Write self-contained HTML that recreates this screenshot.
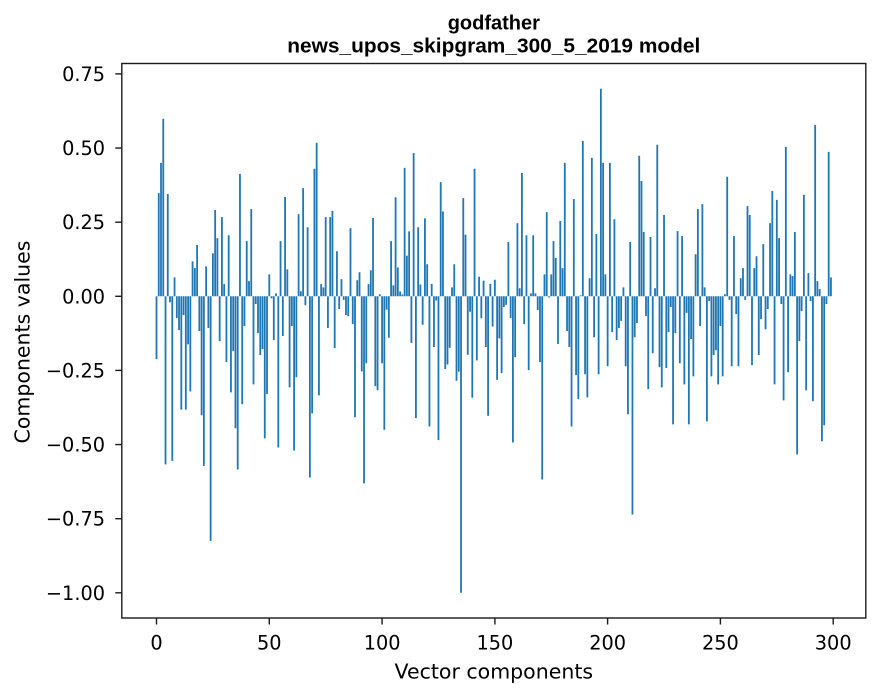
<!DOCTYPE html>
<html>
<head>
<meta charset="utf-8">
<style>
html,body{margin:0;padding:0;background:#fff;}
svg{display:block;}
</style>
</head>
<body>
<svg width="880" height="696" viewBox="0 0 880 696" xmlns="http://www.w3.org/2000/svg">
<rect x="0" y="0" width="880" height="696" fill="#fff"/>
<g transform="translate(156.5 296.3) scale(2.2557 -296.5)" fill="#1f77b4">
<path d="M-.4 0
h.8V-.212h-.8zm1 0 h.8V.348h-.8zm1 0 h.8V.450h-.8zm1 0 h.8V.599h-.8zm1 0 h.8V-.567h-.8zm1 0
h.8V.345h-.8zm1 0 h.8V-.020h-.8zm1 0 h.8V-.555h-.8zm1 0 h.8V.064h-.8zm1 0 h.8V-.073h-.8zm1 0
h.8V-.114h-.8zm1 0 h.8V-.382h-.8zm1 0 h.8V-.063h-.8zm1 0 h.8V-.382h-.8zm1 0 h.8V-.162h-.8zm1 0
h.8V-.321h-.8zm1 0 h.8V.118h-.8zm1 0 h.8V.095h-.8zm1 0 h.8V.173h-.8zm1 0 h.8V-.117h-.8zm1 0
h.8V-.401h-.8zm1 0 h.8V-.572h-.8zm1 0 h.8V.101h-.8zm1 0 h.8V-.107h-.8zm1 0 h.8V-.825h-.8zm1 0
h.8V.145h-.8zm1 0 h.8V.291h-.8zm1 0 h.8V.196h-.8zm1 0 h.8V-.151h-.8zm1 0 h.8V.267h-.8zm1 0
h.8V.041h-.8zm1 0 h.8V-.222h-.8zm1 0 h.8V.206h-.8zm1 0 h.8V-.324h-.8zm1 0 h.8V-.185h-.8zm1 0
h.8V-.445h-.8zm1 0 h.8V-.584h-.8zm1 0 h.8V.413h-.8zm1 0 h.8V-.364h-.8zm1 0 h.8V-.100h-.8zm1 0
h.8V.186h-.8zm1 0 h.8V.051h-.8zm1 0 h.8V.294h-.8zm1 0 h.8V-.297h-.8zm1 0 h.8V-.026h-.8zm1 0
h.8V-.124h-.8zm1 0 h.8V-.198h-.8zm1 0 h.8V-.178h-.8zm1 0 h.8V-.479h-.8zm1 0 h.8V-.330h-.8zm1 0
h.8V.074h-.8zm1 0 h.8V-.007h-.8zm1 0 h.8V-.148h-.8zm1 0 h.8V.010h-.8zm1 0 h.8V-.510h-.8zm1 0
h.8V.186h-.8zm1 0 h.8V-.134h-.8zm1 0 h.8V.335h-.8zm1 0 h.8V.091h-.8zm1 0 h.8V-.307h-.8zm1 0
h.8V-.100h-.8zm1 0 h.8V-.520h-.8zm1 0 h.8V-.273h-.8zm1 0 h.8V.277h-.8zm1 0 h.8V.017h-.8zm1 0
h.8V.365h-.8zm1 0 h.8V-.030h-.8zm1 0 h.8V.233h-.8zm1 0 h.8V-.611h-.8zm1 0 h.8V-.395h-.8zm1 0
h.8V.430h-.8zm1 0 h.8V.518h-.8zm1 0 h.8V-.334h-.8zm1 0 h.8V.041h-.8zm1 0 h.8V.030h-.8zm1 0
h.8V.267h-.8zm1 0 h.8V-.107h-.8zm1 0 h.8V.267h-.8zm1 0 h.8V.288h-.8zm1 0 h.8V-.175h-.8zm1 0
h.8V.152h-.8zm1 0 h.8V-.043h-.8zm1 0 h.8V.058h-.8zm1 0 h.8V-.012h-.8zm1 0 h.8V-.063h-.8zm1 0
h.8V-.067h-.8zm1 0 h.8V.230h-.8zm1 0 h.8V-.094h-.8zm1 0 h.8V-.408h-.8zm1 0 h.8V.054h-.8zm1 0
h.8V.081h-.8zm1 0 h.8V-.253h-.8zm1 0 h.8V-.631h-.8zm1 0 h.8V-.226h-.8zm1 0 h.8V.041h-.8zm1 0
h.8V.088h-.8zm1 0 h.8V.264h-.8zm1 0 h.8V-.303h-.8zm1 0 h.8V-.317h-.8zm1 0 h.8V.007h-.8zm1 0
h.8V-.226h-.8zm1 0 h.8V-.450h-.8zm1 0 h.8V-.045h-.8zm1 0 h.8V-.140h-.8zm1 0 h.8V.186h-.8zm1 0
h.8V.037h-.8zm1 0 h.8V.334h-.8zm1 0 h.8V.097h-.8zm1 0 h.8V.016h-.8zm1 0 h.8V.006h-.8zm1 0
h.8V.433h-.8zm1 0 h.8V.137h-.8zm1 0 h.8V.219h-.8zm1 0 h.8V-.157h-.8zm1 0 h.8V.483h-.8zm1 0
h.8V-.411h-.8zm1 0 h.8V.233h-.8zm1 0 h.8V.040h-.8zm1 0 h.8V-.096h-.8zm1 0 h.8V.263h-.8zm1 0
h.8V.108h-.8zm1 0 h.8V-.439h-.8zm1 0 h.8V.042h-.8zm1 0 h.8V-.171h-.8zm1 0 h.8V-.014h-.8zm1 0
h.8V-.485h-.8zm1 0 h.8V.385h-.8zm1 0 h.8V.286h-.8zm1 0 h.8V-.245h-.8zm1 0 h.8V-.230h-.8zm1 0
h.8V-.174h-.8zm1 0 h.8V.030h-.8zm1 0 h.8V.108h-.8zm1 0 h.8V-.285h-.8zm1 0 h.8V-.254h-.8zm1 0
h.8V-1.000h-.8zm1 0 h.8V.331h-.8zm1 0 h.8V.208h-.8zm1 0 h.8V-.197h-.8zm1 0 h.8V-.052h-.8zm1 0
h.8V-.342h-.8zm1 0 h.8V.430h-.8zm1 0 h.8V-.216h-.8zm1 0 h.8V.066h-.8zm1 0 h.8V-.074h-.8zm1 0
h.8V.053h-.8zm1 0 h.8V-.171h-.8zm1 0 h.8V-.403h-.8zm1 0 h.8V.042h-.8zm1 0 h.8V-.102h-.8zm1 0
h.8V.056h-.8zm1 0 h.8V-.282h-.8zm1 0 h.8V-.142h-.8zm1 0 h.8V-.259h-.8zm1 0 h.8V-.036h-.8zm1 0
h.8V-.029h-.8zm1 0 h.8V.183h-.8zm1 0 h.8V-.073h-.8zm1 0 h.8V-.493h-.8zm1 0 h.8V-.205h-.8zm1 0
h.8V.247h-.8zm1 0 h.8V.027h-.8zm1 0 h.8V.416h-.8zm1 0 h.8V-.094h-.8zm1 0 h.8V.206h-.8zm1 0
h.8V-.249h-.8zm1 0 h.8V.010h-.8zm1 0 h.8V.206h-.8zm1 0 h.8V.010h-.8zm1 0 h.8V-.046h-.8zm1 0
h.8V-.222h-.8zm1 0 h.8V-.618h-.8zm1 0 h.8V.074h-.8zm1 0 h.8V.284h-.8zm1 0 h.8V-.004h-.8zm1 0
h.8V.074h-.8zm1 0 h.8V.186h-.8zm1 0 h.8V.129h-.8zm1 0 h.8V-.161h-.8zm1 0 h.8V.254h-.8zm1 0
h.8V.095h-.8zm1 0 h.8V.450h-.8zm1 0 h.8V-.117h-.8zm1 0 h.8V-.171h-.8zm1 0 h.8V-.439h-.8zm1 0
h.8V.328h-.8zm1 0 h.8V-.266h-.8zm1 0 h.8V-.347h-.8zm1 0 h.8V.003h-.8zm1 0 h.8V.524h-.8zm1 0
h.8V-.263h-.8zm1 0 h.8V-.341h-.8zm1 0 h.8V.061h-.8zm1 0 h.8V.467h-.8zm1 0 h.8V-.138h-.8zm1 0
h.8V.210h-.8zm1 0 h.8V-.263h-.8zm1 0 h.8V.700h-.8zm1 0 h.8V.450h-.8zm1 0 h.8V.074h-.8zm1 0
h.8V-.236h-.8zm1 0 h.8V.450h-.8zm1 0 h.8V-.121h-.8zm1 0 h.8V.260h-.8zm1 0 h.8V-.148h-.8zm1 0
h.8V-.107h-.8zm1 0 h.8V-.083h-.8zm1 0 h.8V.030h-.8zm1 0 h.8V-.236h-.8zm1 0 h.8V-.398h-.8zm1 0
h.8V.183h-.8zm1 0 h.8V-.736h-.8zm1 0 h.8V-.138h-.8zm1 0 h.8V-.090h-.8zm1 0 h.8V.474h-.8zm1 0
h.8V.389h-.8zm1 0 h.8V.217h-.8zm1 0 h.8V-.067h-.8zm1 0 h.8V-.313h-.8zm1 0 h.8V.200h-.8zm1 0
h.8V-.192h-.8zm1 0 h.8V.027h-.8zm1 0 h.8V.511h-.8zm1 0 h.8V-.239h-.8zm1 0 h.8V-.307h-.8zm1 0
h.8V.274h-.8zm1 0 h.8V-.242h-.8zm1 0 h.8V-.121h-.8zm1 0 h.8V-.036h-.8zm1 0 h.8V-.432h-.8zm1 0
h.8V-.124h-.8zm1 0 h.8V.220h-.8zm1 0 h.8V-.226h-.8zm1 0 h.8V.203h-.8zm1 0 h.8V-.297h-.8zm1 0
h.8V-.056h-.8zm1 0 h.8V-.432h-.8zm1 0 h.8V-.144h-.8zm1 0 h.8V-.270h-.8zm1 0 h.8V.142h-.8zm1 0
h.8V.294h-.8zm1 0 h.8V-.100h-.8zm1 0 h.8V.311h-.8zm1 0 h.8V.030h-.8zm1 0 h.8V-.422h-.8zm1 0
h.8V-.016h-.8zm1 0 h.8V-.270h-.8zm1 0 h.8V-.198h-.8zm1 0 h.8V-.182h-.8zm1 0 h.8V-.297h-.8zm1 0
h.8V-.100h-.8zm1 0 h.8V-.270h-.8zm1 0 h.8V.007h-.8zm1 0 h.8V.403h-.8zm1 0 h.8V-.012h-.8zm1 0
h.8V-.236h-.8zm1 0 h.8V.203h-.8zm1 0 h.8V-.060h-.8zm1 0 h.8V-.236h-.8zm1 0 h.8V.061h-.8zm1 0
h.8V.095h-.8zm1 0 h.8V-.012h-.8zm1 0 h.8V.304h-.8zm1 0 h.8V.274h-.8zm1 0 h.8V-.232h-.8zm1 0
h.8V.095h-.8zm1 0 h.8V.135h-.8zm1 0 h.8V-.198h-.8zm1 0 h.8V-.077h-.8zm1 0 h.8V.176h-.8zm1 0
h.8V-.111h-.8zm1 0 h.8V-.043h-.8zm1 0 h.8V.247h-.8zm1 0 h.8V.355h-.8zm1 0 h.8V-.297h-.8zm1 0
h.8V.325h-.8zm1 0 h.8V.196h-.8zm1 0 h.8V-.026h-.8zm1 0 h.8V-.351h-.8zm1 0 h.8V.504h-.8zm1 0
h.8V-.256h-.8zm1 0 h.8V.074h-.8zm1 0 h.8V.068h-.8zm1 0 h.8V.217h-.8zm1 0 h.8V-.533h-.8zm1 0
h.8V-.151h-.8zm1 0 h.8V-.050h-.8zm1 0 h.8V.342h-.8zm1 0 h.8V-.317h-.8zm1 0 h.8V.078h-.8zm1 0
h.8V-.016h-.8zm1 0 h.8V-.354h-.8zm1 0 h.8V.578h-.8zm1 0 h.8V.051h-.8zm1 0 h.8V.024h-.8zm1 0
h.8V-.489h-.8zm1 0 h.8V-.435h-.8zm1 0 h.8V-.026h-.8zm1 0 h.8V.487h-.8zm1 0 h.8V.064h-.8z"/>
</g>

<!-- axes frame -->
<rect x="121.8" y="63.5" width="744" height="554.5" fill="none" stroke="#1a1a1a" stroke-width="1.4"/>

<!-- y ticks -->
<g stroke="#1a1a1a" stroke-width="1.4">
<line x1="115.3" y1="73.9" x2="121.8" y2="73.9"/>
<line x1="115.3" y1="148.05" x2="121.8" y2="148.05"/>
<line x1="115.3" y1="222.2" x2="121.8" y2="222.2"/>
<line x1="115.3" y1="296.3" x2="121.8" y2="296.3"/>
<line x1="115.3" y1="370.4" x2="121.8" y2="370.4"/>
<line x1="115.3" y1="444.55" x2="121.8" y2="444.55"/>
<line x1="115.3" y1="518.7" x2="121.8" y2="518.7"/>
<line x1="115.3" y1="592.8" x2="121.8" y2="592.8"/>
</g>
<!-- x ticks -->
<g stroke="#1a1a1a" stroke-width="1.4">
<line x1="156.5" y1="618" x2="156.5" y2="624.5"/>
<line x1="269.3" y1="618" x2="269.3" y2="624.5"/>
<line x1="382.1" y1="618" x2="382.1" y2="624.5"/>
<line x1="494.9" y1="618" x2="494.9" y2="624.5"/>
<line x1="607.6" y1="618" x2="607.6" y2="624.5"/>
<line x1="720.4" y1="618" x2="720.4" y2="624.5"/>
<line x1="833.2" y1="618" x2="833.2" y2="624.5"/>
</g>

<g font-family="DejaVu Sans, 'Liberation Sans', sans-serif" font-size="19.3" fill="#000" text-anchor="end">
<text x="105" y="80.9">0.75</text>
<text x="105" y="155.05">0.50</text>
<text x="105" y="229.2">0.25</text>
<text x="105" y="303.3">0.00</text>
<text x="105" y="377.4">−0.25</text>
<text x="105" y="451.55">−0.50</text>
<text x="105" y="525.7">−0.75</text>
<text x="105" y="599.8">−1.00</text>
</g>
<g font-family="DejaVu Sans, 'Liberation Sans', sans-serif" font-size="19.3" fill="#000" text-anchor="middle">
<text x="156.5" y="649.3">0</text>
<text x="269.3" y="649.3">50</text>
<text x="382.1" y="649.3">100</text>
<text x="494.9" y="649.3">150</text>
<text x="607.6" y="649.3">200</text>
<text x="720.4" y="649.3">250</text>
<text x="833.2" y="649.3">300</text>
</g>

<text x="493.8" y="678.3" font-family="DejaVu Sans, 'Liberation Sans', sans-serif" font-size="20.5" text-anchor="middle" fill="#000">Vector components</text>
<text transform="translate(29.5 342) rotate(-90)" font-family="DejaVu Sans, 'Liberation Sans', sans-serif" font-size="20.5" text-anchor="middle" fill="#000">Components values</text>

<text x="493.8" y="29.5" font-family="'Liberation Sans', Arial, sans-serif" font-weight="bold" font-size="20" text-anchor="middle" fill="#000">godfather</text>
<text x="493.8" y="52.7" font-family="'Liberation Sans', Arial, sans-serif" font-weight="bold" font-size="20" text-anchor="middle" fill="#000" textLength="413" lengthAdjust="spacingAndGlyphs">news_upos_skipgram_300_5_2019 model</text>
</svg>
</body>
</html>
